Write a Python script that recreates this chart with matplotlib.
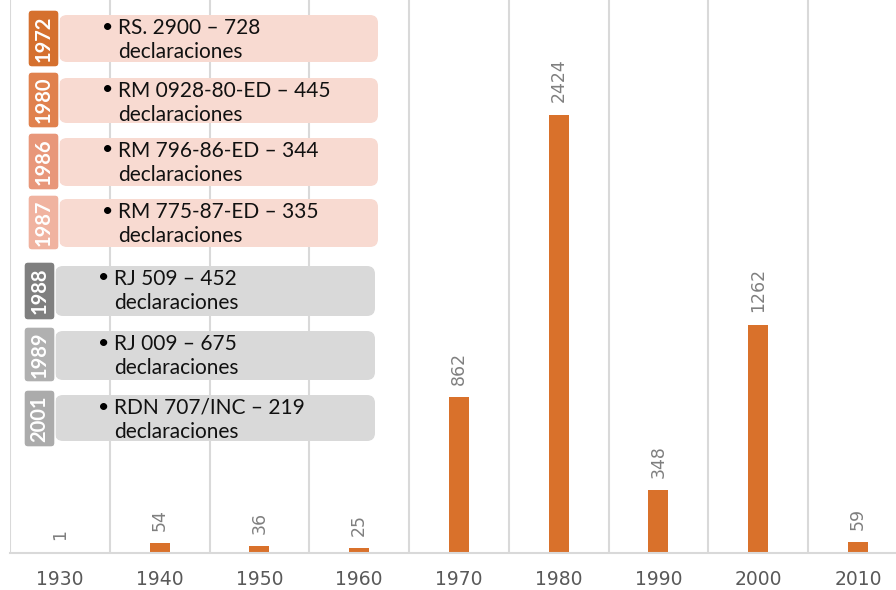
import matplotlib.pyplot as plt
from matplotlib.patches import FancyBboxPatch

# datos del grafico
decadas = ['1930', '1940', '1950', '1960', '1970', '1980', '1990', '2000', '2010']
declaraciones = [1, 54, 36, 25, 862, 2424, 348, 1262, 59]

# etiquetas de las resoluciones
anios = ['1972', '1980', '1986', '1987', '1988', '1989', '2001']
normas = ['RS. 2900 – 728', 'RM 0928-80-ED – 445', 'RM 796-86-ED – 344',
          'RM 775-87-ED – 335', 'RJ 509 – 452', 'RJ 009 – 675', 'RDN 707/INC – 219']
tag_colors = ['#D5702E', '#E0814D', '#E8977A', '#F0B3A0', '#7F7F7F', '#B0B0B0', '#ABABAB']
bar_colors = ['#F8DAD1'] * 4 + ['#D9D9D9'] * 3

W, H = 896, 590
fig = plt.figure(figsize=(W / 100, H / 100), dpi=100)

# eje principal (se sale un poco por la derecha como en la imagen)
cat_w = 99.75
ax = fig.add_axes([10 / W, (H - 553) / H, 9 * cat_w / W, 553 / H])
x = list(range(len(decadas)))
ax.bar(x, declaraciones, width=0.2, color='#D9712B', zorder=2)
ax.set_xlim(-0.5, 8.5)
ax.set_ylim(0, 553 / 0.1807)
for i, v in enumerate(declaraciones):
    ax.annotate(str(v), (i, v), xytext=(0, 9), textcoords='offset points',
                rotation=90, ha='center', va='bottom', fontsize=12.5, color='#7F7F7F')
for b in [i - 0.5 for i in range(10)]:
    ax.axvline(b, color='#D9D9D9', lw=1.5, zorder=0)
ax.set_yticks([])
ax.set_xticks(x)
ax.set_xticklabels(decadas, fontsize=13.5, color='#595959')
ax.tick_params(axis='x', length=0, pad=12)
for s in ['top', 'right', 'left']:
    ax.spines[s].set_visible(False)
ax.spines['bottom'].set_color('#D9D9D9')
ax.spines['bottom'].set_linewidth(1.5)

# capa de cajas en pixeles
ov = fig.add_axes([0, 0, 1, 1], zorder=5)
ov.set_xlim(0, W)
ov.set_ylim(H, 0)
ov.axis('off')

tags_y = [(10, 67), (72, 128), (133, 190), (195, 250), (262, 320), (327, 382), (390, 447)]
bars_y = [(15, 62), (78, 123), (138, 186), (199, 247), (266, 316), (331, 380), (395, 441)]

for k in range(len(anios)):
    pink = k < 4
    tx0, tx1 = (28, 59) if pink else (24, 55)
    bx0, bx1 = (59, 378) if pink else (55, 375)
    ty0, ty1 = tags_y[k]
    by0, by1 = bars_y[k]
    ov.add_patch(FancyBboxPatch((bx0, by0), bx1 - bx0, by1 - by0,
                                boxstyle='round,pad=0,rounding_size=8',
                                fc=bar_colors[k], ec='none'))
    ov.add_patch(FancyBboxPatch((tx0, ty0), tx1 - tx0, ty1 - ty0,
                                boxstyle='round,pad=0,rounding_size=4',
                                fc=tag_colors[k], ec='white', lw=1))
    ov.text((tx0 + tx1) / 2, (ty0 + ty1) / 2, anios[k], rotation=90, ha='center',
            va='center', color='white', fontsize=14.5, fontweight='bold', family='Lato')
    txt_x = 118 if pink else 114
    ov.text(txt_x - 16, by0 + 12, '•', ha='left', va='center', fontsize=14,
            color='black', family='Lato')
    ov.text(txt_x, by0 + 13, normas[k], ha='left', va='center', fontsize=15,
            color='#111111', family='Lato')
    ov.text(txt_x, by0 + 37, 'declaraciones', ha='left', va='center', fontsize=15,
            color='#111111', family='Lato')

fig.savefig('out.png', dpi=100)
